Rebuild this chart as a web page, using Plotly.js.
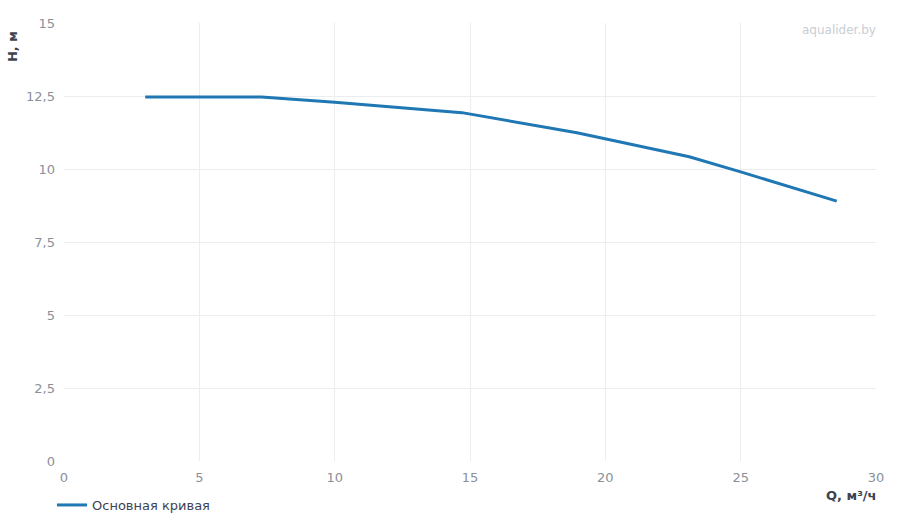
<!DOCTYPE html>
<html>
<head>
<meta charset="utf-8">
<script src="https://cdn.plot.ly/plotly-3.0.1.min.js"></script>
<style>
  html, body { margin: 0; padding: 0; background: #fff; }
  #chart { width: 900px; height: 520px; }
</style>
</head>
<body>
<div id="chart"></div>
<script>
"use strict"

// напорная характеристика насоса
const flowQ = [3.0, 5.0, 7.3, 10.0, 14.7, 18.95, 20.0, 23.1, 25.0, 28.55]
const headH = [12.47, 12.47, 12.47, 12.29, 11.93, 11.24, 11.03, 10.42, 9.9, 8.9]
const seriesName = "Основная кривая"
const xTitle = "Q, м³/ч"
const yTitle = "H, м"
const watermark = "aqualider.by"

const trace = {
  x: flowQ,
  y: headH,
  mode: "lines",
  type: "scatter",
  name: seriesName,
  line: {color: "#1f77b4", width: 3},
  showlegend: true,
}

const layout = {
  width: 900,
  height: 520,
  separators: ", ",
  paper_bgcolor: "#fff",
  plot_bgcolor: "#fff",
  font: {family: "DejaVu Sans, sans-serif", size: 13, color: "#8a909a"},
  margin: {l: 64, r: 24, t: 23, b: 59, pad: 0, autoexpand: false},
  xaxis: {
    range: [0, 30],
    dtick: 5,
    tick0: 0,
    showgrid: true,
    gridcolor: "#ebedf1",
    zeroline: false,
    showline: false,
    ticks: "",
    ticklabelstandoff: 7,
    tickfont: {size: 13, color: "#8a909a"},
    fixedrange: true,
  },
  yaxis: {
    range: [0, 15],
    dtick: 2.5,
    tick0: 0,
    showgrid: true,
    gridcolor: "#ebedf1",
    zeroline: false,
    showline: false,
    ticks: "",
    ticklabelstandoff: 8,
    tickfont: {size: 13, color: "#8a909a"},
    fixedrange: true,
  },
  showlegend: true,
  legend: {
    orientation: "h",
    xref: "container",
    yref: "container",
    x: 52 / 900,
    xanchor: "left",
    y: 15 / 520,
    yanchor: "middle",
    itemwidth: 30,
    font: {size: 13, color: "#3d4350"},
  },
  annotations: [
    {
      text: "<b>" + yTitle + "</b>",
      xref: "paper", yref: "paper",
      x: -0.064, y: 0.985,
      xanchor: "center", yanchor: "top",
      textangle: -90,
      showarrow: false,
      font: {size: 13, color: "#3d4350"},
    },
    {
      text: "<b>" + xTitle + "</b>",
      xref: "paper", yref: "paper",
      x: 1.004, y: -0.078,
      xanchor: "right", yanchor: "middle",
      showarrow: false,
      font: {size: 13, color: "#3d4350"},
    },
    {
      text: watermark,
      xref: "paper", yref: "paper",
      x: 1.003, y: 1.005,
      xanchor: "right", yanchor: "top",
      showarrow: false,
      font: {size: 12, color: "#c9cdd4"},
    },
  ],
}

Plotly.newPlot("chart", [trace], layout, {displayModeBar: false, staticPlot: true})
</script>
</body>
</html>
